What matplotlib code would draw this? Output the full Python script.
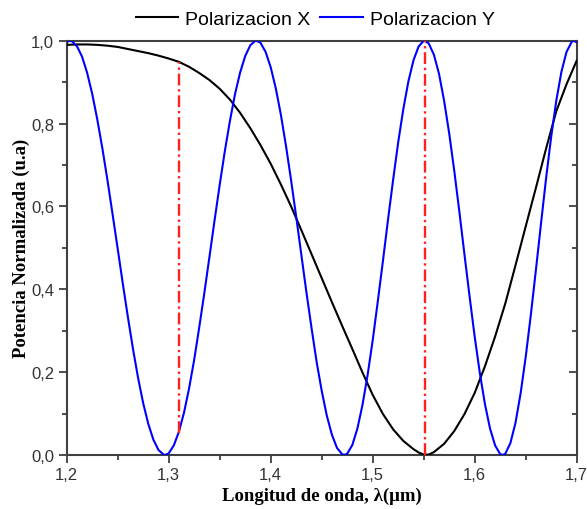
import numpy as np
import matplotlib.pyplot as plt
from matplotlib.ticker import MultipleLocator, FuncFormatter

# ---------------------------------------------------------
# DATA
# ---------------------------------------------------------
# Polarizacion X (black)
x_pol_x = [1.20, 1.21, 1.22, 1.23, 1.24, 1.25, 1.26, 1.27, 1.28, 1.29,
           1.30, 1.31, 1.32, 1.33, 1.34, 1.35, 1.36, 1.37, 1.38, 1.39,
           1.40, 1.41, 1.42, 1.43, 1.44, 1.45, 1.46, 1.47, 1.48, 1.49,
           1.50, 1.51, 1.52, 1.53, 1.54, 1.545, 1.55, 1.555, 1.56, 1.57,
           1.58, 1.59, 1.60, 1.61, 1.62, 1.63, 1.64, 1.65, 1.66, 1.67,
           1.68, 1.69, 1.70]
y_pol_x = [0.990, 0.991, 0.991, 0.990, 0.988, 0.985, 0.980, 0.975, 0.970, 0.964,
           0.957, 0.949, 0.937, 0.922, 0.905, 0.884, 0.858, 0.826, 0.789, 0.748,
           0.703, 0.653, 0.600, 0.543, 0.485, 0.427, 0.369, 0.312, 0.256, 0.199,
           0.145, 0.099, 0.062, 0.034, 0.014, 0.006, 0.001, 0.001, 0.007, 0.027,
           0.058, 0.099, 0.150, 0.214, 0.286, 0.366, 0.458, 0.552, 0.645, 0.740,
           0.830, 0.895, 0.952]

# Polarizacion Y (blue)
x_pol_y = [1.200, 1.2033, 1.205, 1.210, 1.215, 1.220, 1.225, 1.230, 1.235, 1.240,
           1.245, 1.250, 1.255, 1.260, 1.265, 1.270, 1.275, 1.280, 1.285, 1.290,
           1.295, 1.2964, 1.300, 1.305, 1.310, 1.315, 1.320, 1.325, 1.330, 1.335,
           1.340, 1.345, 1.350, 1.355, 1.360, 1.365, 1.370, 1.375, 1.380, 1.385,
           1.386, 1.390, 1.395, 1.400, 1.405, 1.410, 1.415, 1.420, 1.425, 1.430,
           1.435, 1.440, 1.445, 1.450, 1.455, 1.460, 1.465, 1.470, 1.4722, 1.475,
           1.480, 1.485, 1.490, 1.495, 1.500, 1.505, 1.510, 1.515, 1.520, 1.525,
           1.530, 1.535, 1.540, 1.545, 1.550, 1.551, 1.555, 1.560, 1.565, 1.570,
           1.575, 1.580, 1.585, 1.590, 1.595, 1.600, 1.605, 1.610, 1.615, 1.620,
           1.625, 1.6274, 1.630, 1.635, 1.640, 1.645, 1.650, 1.655, 1.660, 1.665,
           1.670, 1.675, 1.680, 1.685, 1.690, 1.695, 1.6973, 1.700]
y_pol_y = [0.997, 1.000, 0.999, 0.987, 0.962, 0.923, 0.872, 0.810, 0.740, 0.663,
           0.581, 0.498, 0.414, 0.333, 0.256, 0.186, 0.125, 0.075, 0.037, 0.012,
           0.001, 0.000, 0.004, 0.023, 0.056, 0.102, 0.161, 0.230, 0.309, 0.392,
           0.479, 0.567, 0.652, 0.733, 0.806, 0.871, 0.923, 0.963, 0.989, 1.000,
           1.000, 0.995, 0.973, 0.936, 0.885, 0.821, 0.746, 0.663, 0.575, 0.484,
           0.393, 0.307, 0.225, 0.155, 0.095, 0.049, 0.017, 0.002, 0.000, 0.003,
           0.024, 0.064, 0.121, 0.193, 0.277, 0.371, 0.468, 0.568, 0.664, 0.755,
           0.835, 0.902, 0.953, 0.986, 1.000, 1.000, 0.993, 0.966, 0.920, 0.855,
           0.776, 0.685, 0.586, 0.483, 0.382, 0.285, 0.198, 0.123, 0.064, 0.023,
           0.002, 0.000, 0.003, 0.029, 0.078, 0.149, 0.237, 0.338, 0.447, 0.559,
           0.669, 0.769, 0.856, 0.925, 0.973, 0.997, 1.000, 0.996]

# red dash-dot markers (wavelength, bottom, top)
marker_x = [1.31, 1.551]
marker_bottom = [0.052, 0.0]
marker_top = [0.949, 1.0]

# ---------------------------------------------------------
# PLOTTING
# ---------------------------------------------------------
sans = 'Liberation Sans'
serif = 'Liberation Serif'
frame_color = '#404040'

fig = plt.figure(figsize=(5.87, 5.10), dpi=100)
ax = fig.add_axes([0.1136, 0.1059, 0.8689, 0.8123])

ax.plot(x_pol_x, y_pol_x, color='black', lw=1.5, label='Polarizacion X', zorder=3)
ax.plot(x_pol_y, y_pol_y, color='#0000ff', lw=1.5, label='Polarizacion Y', zorder=3)
ax.vlines(marker_x, marker_bottom, marker_top, colors='#ff2020', lw=1.7,
          linestyles=(0, (5, 1.6, 1, 1.6)), zorder=4)

ax.set_xlim(1.2, 1.7)
ax.set_ylim(0.0, 1.0)

comma = FuncFormatter(lambda v, p: f"{v:.1f}".replace('.', ','))
ax.xaxis.set_major_locator(MultipleLocator(0.1))
ax.xaxis.set_minor_locator(MultipleLocator(0.05))
ax.yaxis.set_major_locator(MultipleLocator(0.2))
ax.yaxis.set_minor_locator(MultipleLocator(0.1))
ax.xaxis.set_major_formatter(comma)
ax.yaxis.set_major_formatter(comma)

for s in ax.spines.values():
    s.set_color(frame_color)
    s.set_linewidth(1.5)

ax.tick_params(which='both', direction='out', color=frame_color, width=1.3,
               top=False, right=False)
ax.tick_params(which='major', length=6, labelsize=12, labelcolor='#333333', pad=3)
ax.tick_params(which='minor', length=3.5)
for lab in ax.get_xticklabels() + ax.get_yticklabels():
    lab.set_fontfamily(sans)

# right side: inward ticks, no labels
right = ax.secondary_yaxis('right')
right.yaxis.set_major_locator(MultipleLocator(0.2))
right.yaxis.set_minor_locator(MultipleLocator(0.1))
right.tick_params(which='both', direction='in', color=frame_color, width=1.3,
                  labelright=False)
right.tick_params(which='major', length=6)
right.tick_params(which='minor', length=3.5)
right.spines['right'].set_visible(False)

ax.set_xlabel('Longitud de onda, λ(μm)', fontfamily=serif, fontweight='bold',
              fontsize=13.5, labelpad=3)
ax.set_ylabel('Potencia Normalizada (u.a)', fontfamily=serif, fontweight='bold',
              fontsize=13.5, labelpad=0.5)

fig.legend(loc='center', bbox_to_anchor=(0.537, 0.961), ncol=2, frameon=False,
           prop={'family': sans, 'size': 14}, handlelength=2.2,
           handletextpad=0.35, columnspacing=0.5)

fig.savefig('out.png', dpi=100)
